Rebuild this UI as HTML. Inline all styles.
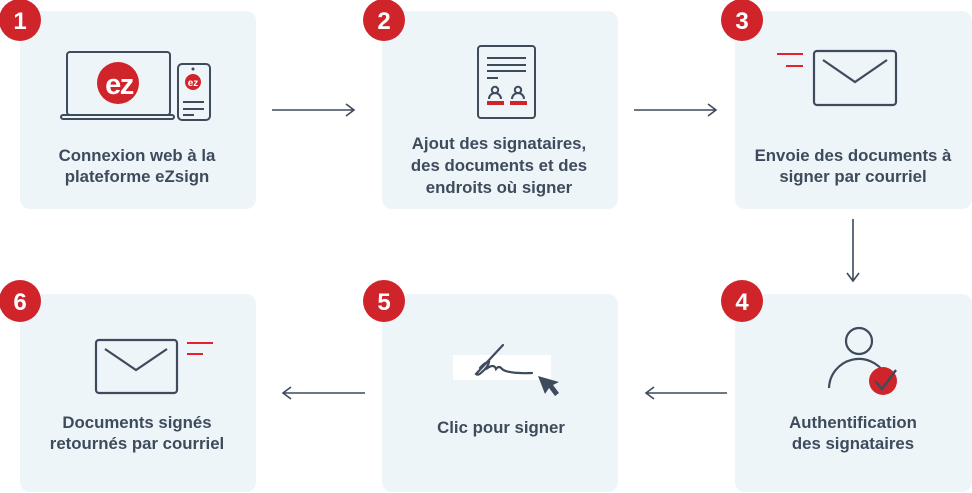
<!DOCTYPE html>
<html><head><meta charset="utf-8"><style>
html,body{margin:0;padding:0;background:#fff;width:972px;height:493px;overflow:hidden}
svg{display:block}
text{font-family:"Liberation Sans",sans-serif;font-weight:bold;fill:#3d4b5c}
.t{font-size:16.8px;text-anchor:middle}
.n{font-size:24px;fill:#fff;text-anchor:middle}
</style></head><body>
<svg width="972" height="493" viewBox="0 0 972 493" xmlns="http://www.w3.org/2000/svg">
<g fill="#eef5f9">
<rect x="20" y="11" width="236" height="198" rx="10"/>
<rect x="382" y="11" width="236" height="198" rx="10"/>
<rect x="735" y="11" width="237" height="198" rx="10"/>
<rect x="20" y="294" width="236" height="198" rx="10"/>
<rect x="382" y="294" width="236" height="198" rx="10"/>
<rect x="735" y="294" width="237" height="198" rx="10"/>
</g>
<g fill="#d0242b">
<circle cx="20" cy="20" r="21"/><circle cx="384" cy="20" r="21"/><circle cx="742" cy="20" r="21"/>
<circle cx="20" cy="301" r="21"/><circle cx="384" cy="301" r="21"/><circle cx="742" cy="301" r="21"/>
</g>
<text class="n" x="20" y="29">1</text><text class="n" x="384" y="29">2</text><text class="n" x="742" y="29">3</text>
<text class="n" x="20" y="310">6</text><text class="n" x="384" y="310">5</text><text class="n" x="742" y="310">4</text>
<g stroke="#3d4b5c" stroke-width="1.6" fill="none">
<path d="M272 110H354M346 104l8 6-8 6"/>
<path d="M634 110H716M708 104l8 6-8 6"/>
<path d="M853 219V281M847 273l6 8 6-8"/>
<path d="M727 393H646M654 387l-8 6 8 6"/>
<path d="M365 393H283M291 387l-8 6 8 6"/>
</g>
<g stroke="#3d4b5c" stroke-width="2" fill="none">
<rect x="67" y="52" width="103" height="63" rx="3"/>
<rect x="61" y="115" width="113" height="4" rx="2"/>
<rect x="178" y="64" width="32" height="56" rx="4"/>
<path d="M183 102h21M183 109h21M183 115h11"/>
</g>
<circle cx="193" cy="69" r="1.5" fill="#3d4b5c"/>
<circle cx="118" cy="83" r="21" fill="#d0242b"/>
<text x="119" y="94" style="font-size:29px;fill:#fff;text-anchor:middle;letter-spacing:-1.5px">ez</text>
<circle cx="193" cy="82" r="8" fill="#d0242b"/>
<text x="193" y="86" style="font-size:10px;fill:#fff;text-anchor:middle">ez</text>
<g stroke="#3d4b5c" stroke-width="2" fill="none">
<rect x="478" y="46" width="57" height="72" rx="3"/>
<path d="M487 58h39M487 65h39M487 71h39M487 78h11"/>
<circle cx="495" cy="90" r="3.2"/><path d="M489 99a6 6 0 0 1 12 0"/>
<circle cx="518" cy="90" r="3.2"/><path d="M512 99a6 6 0 0 1 12 0"/>
</g>
<rect x="487" y="101" width="17" height="4" fill="#d0242b"/>
<rect x="510" y="101" width="17" height="4" fill="#d0242b"/>
<g stroke="#3d4b5c" stroke-width="2.2" fill="none">
<rect x="814" y="51" width="82" height="54" rx="3"/>
<path d="M823 60l32 22 32-22"/>
</g>
<path d="M777 54h26M786 66h17" stroke="#e8202a" stroke-width="2"/>
<g stroke="#3d4b5c" stroke-width="2.2" fill="none">
<rect x="96" y="340" width="81" height="53" rx="3"/>
<path d="M105 349l31 21 31-21"/>
</g>
<path d="M187 343h26M187 354h16" stroke="#e8202a" stroke-width="2"/>
<rect x="453" y="355" width="98" height="25" fill="#fff"/>
<g stroke="#3d4b5c" stroke-width="2.2" fill="none" stroke-linecap="round">
<path d="M503 345L476 374q2 2 6-2q6-5 7-10q-4 0-9 6"/>
<path d="M486 369q8-6 10 0q3-4 6 0q6 5 30 4"/>
</g>
<path d="M538 376l21 6-6 3 6 8-4 3-6-8-4 6z" fill="#3d4b5c"/>
<g stroke="#3d4b5c" stroke-width="2.2" fill="none">
<circle cx="859" cy="341" r="13"/>
<path d="M829 388a30 30 0 0 1 56-14"/>
</g>
<circle cx="883" cy="381" r="14" fill="#d0242b"/>
<path d="M875 381l7 8 14-19" stroke="#3d4b5c" stroke-width="2.4" fill="none"/>
<text class="t" x="137" y="161">Connexion web à la</text>
<text class="t" x="137" y="182">plateforme eZsign</text>
<text class="t" x="499" y="149">Ajout des signataires,</text>
<text class="t" x="499" y="171">des documents et des</text>
<text class="t" x="499" y="193">endroits où signer</text>
<text class="t" x="853" y="161">Envoie des documents à</text>
<text class="t" x="853" y="182">signer par courriel</text>
<text class="t" x="137" y="428">Documents signés</text>
<text class="t" x="137" y="449">retournés par courriel</text>
<text class="t" x="501" y="433">Clic pour signer</text>
<text class="t" x="853" y="428">Authentification</text>
<text class="t" x="853" y="449">des signataires</text>
</svg>
</body></html>
